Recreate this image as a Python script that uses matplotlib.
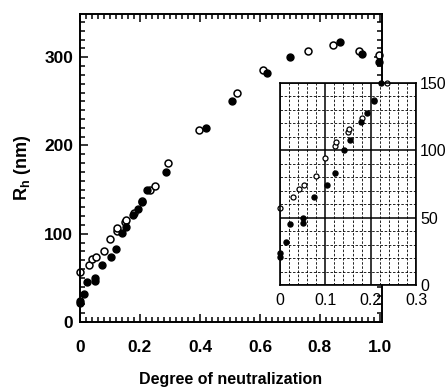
import matplotlib.pyplot as plt
import matplotlib.ticker as ticker

plt.rcParams['font.family'] = ['Liberation Sans', 'DejaVu Sans']
plt.rcParams['mathtext.fontset'] = 'custom'
plt.rcParams['mathtext.rm'] = 'Liberation Sans:bold'
plt.rcParams['mathtext.bf'] = 'Liberation Sans:bold'

# open circles
open_x = [0.0, 0.029, 0.041, 0.053, 0.079, 0.099, 0.122, 0.124, 0.151, 0.153,
          0.180, 0.207, 0.235, 0.249, 0.293, 0.398, 0.524, 0.609, 0.759, 0.844,
          0.931, 0.998]
open_y = [57, 65, 71, 74, 81, 94, 103, 106, 113.5, 115.5,
          124, 137.5, 150, 154, 180, 218, 260, 286, 307, 314,
          307, 302]

# filled circles
fill_x = [0.0, 0.0, 0.014, 0.022, 0.050, 0.050, 0.075, 0.104, 0.121, 0.141,
          0.155, 0.178, 0.192, 0.207, 0.222, 0.288, 0.420, 0.508, 0.624, 0.700,
          0.867, 0.939, 0.998]
fill_y = [21, 23.5, 32, 45, 46, 50, 65, 74, 83, 100.5,
          108, 121, 128, 136.5, 150, 170, 220, 250, 282, 300.5,
          317, 304, 295]

fig = plt.figure(figsize=(4.47, 3.87), dpi=100)
ax = fig.add_axes([80 / 447, 1 - 322 / 387, 302 / 447, 308 / 387])

ax.plot(open_x, open_y, 'o', mfc='white', mec='black', mew=1.1, ms=5, clip_on=False)
ax.plot(fill_x, fill_y, 'o', color='black', ms=5, clip_on=False)
ax.set_xlim(0, 1.007)
ax.set_ylim(0, 349)
ax.xaxis.set_major_locator(ticker.MultipleLocator(0.2))
ax.xaxis.set_minor_locator(ticker.MultipleLocator(0.02))
ax.yaxis.set_major_locator(ticker.MultipleLocator(100))
ax.yaxis.set_minor_locator(ticker.MultipleLocator(10))
ax.xaxis.set_major_formatter(ticker.FuncFormatter(lambda v, p: '0' if v == 0 else '%.1f' % v))
ax.tick_params(which='both', direction='in', top=True, right=True, width=1.1)
ax.tick_params(which='major', length=6)
ax.tick_params(which='minor', length=3.5)
ax.tick_params(axis='x', which='major', pad=13, labelsize=12.5)
ax.tick_params(axis='y', which='major', pad=5, labelsize=12.5)
for lab in ax.get_xticklabels() + ax.get_yticklabels():
    lab.set_fontweight('bold')
for s in ax.spines.values():
    s.set_linewidth(1.4)
ax.set_xlabel('Degree of neutralization', fontsize=11.5, fontweight='bold', labelpad=12)
ax.set_ylabel(r'R$_{\mathrm{h}}$ (nm)', fontsize=13, fontweight='bold', labelpad=8)

# inset: same data, only what falls in its range
in_open = [(x, y) for x, y in zip(open_x, open_y) if x <= 0.3 and y <= 151]
in_fill = [(x, y) for x, y in zip(fill_x, fill_y) if x <= 0.3 and y <= 151]

axi = fig.add_axes([280 / 447, 1 - 285 / 387, 136 / 447, 202 / 387])
axi.set_facecolor('white')
axi.plot([p[0] for p in in_open], [p[1] for p in in_open], 'o', mfc='white', mec='black',
         mew=0.9, ms=3.6, clip_on=False)
axi.plot([p[0] for p in in_fill], [p[1] for p in in_fill], 'o', color='black', ms=3.6,
         clip_on=False)
axi.set_xlim(0, 0.3)
axi.set_ylim(0, 150)
axi.xaxis.set_major_locator(ticker.MultipleLocator(0.1))
axi.xaxis.set_minor_locator(ticker.MultipleLocator(0.02))
axi.yaxis.set_major_locator(ticker.MultipleLocator(50))
axi.yaxis.set_minor_locator(ticker.MultipleLocator(10))
axi.xaxis.set_major_formatter(ticker.FuncFormatter(lambda v, p: '0' if v == 0 else '%.1f' % v))
axi.yaxis.tick_right()
axi.grid(which='major', color='black', linewidth=1.1, linestyle='-')
axi.grid(which='minor', color='black', linewidth=0.6, linestyle=(0, (3, 2)))
axi.set_axisbelow(True)
axi.tick_params(which='both', length=0, labelsize=11.5)
axi.tick_params(axis='x', pad=6)
axi.tick_params(axis='y', pad=3)
for s in axi.spines.values():
    s.set_linewidth(1.2)

plt.savefig('out.png', dpi=100)
